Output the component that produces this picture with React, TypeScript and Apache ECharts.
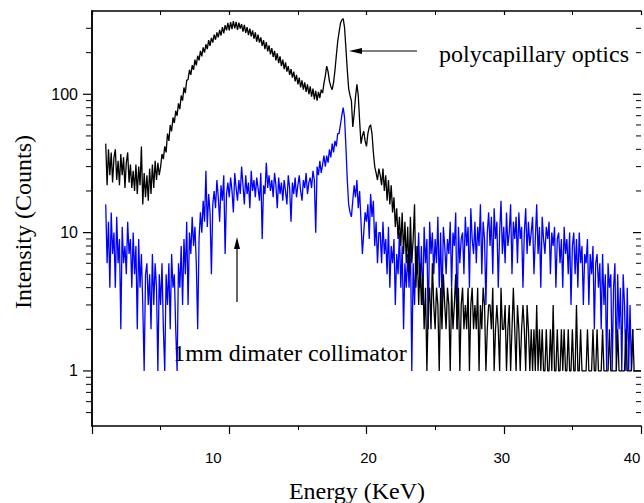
import React, { useEffect, useRef } from "react";
import * as echarts from "echarts";

// Energy calibration of the channels (keV)
const E_START = 1.0;
const E_STEP = 0.1;

// Counts, polycapillary optics (black), one row per keV, 1.0 .. 40.0 keV
const polycapillary = [
  44, 22, 40, 26, 38, 23, 35, 40, 24, 33,
  22, 37, 26, 35, 21, 32, 38, 23, 31, 21,
  28, 20, 31, 19, 30, 22, 42, 16, 27, 18,
  26, 17, 29, 19, 31, 21, 33, 24, 32, 26,
  30, 37, 34, 42, 38, 52, 46, 60, 54, 68,
  62, 76, 70, 86, 78, 98, 90, 112, 102, 126,
  128, 150, 138, 162, 150, 178, 162, 190, 176, 206,
  188, 218, 200, 230, 212, 246, 224, 256, 236, 270,
  248, 280, 258, 292, 266, 306, 276, 316, 290, 328,
  290, 332, 296, 338, 300, 334, 292, 330, 298, 322,
  284, 318, 278, 306, 268, 298, 262, 290, 252, 280,
  240, 270, 236, 258, 224, 246, 212, 238, 204, 226,
  194, 216, 186, 206, 176, 198, 168, 188, 160, 178,
  152, 170, 146, 160, 138, 152, 132, 146, 124, 138,
  118, 132, 112, 126, 108, 122, 104, 118, 100, 114,
  96, 110, 92, 106, 90, 104, 94, 108, 102, 120,
  136, 160, 146, 124, 114, 108, 122, 148, 190, 240,
  280, 325, 345, 352, 305, 215, 150, 110, 98, 90,
  58, 72, 96, 118, 98, 64, 44, 50, 54, 46,
  42, 52, 58, 60, 52, 38, 30, 27, 24, 29,
  26, 22, 29, 20, 26, 17, 24, 16, 22, 14,
  18, 11, 15, 9, 13, 8, 14, 7, 12, 6,
  11, 5, 13, 6, 9, 16, 4, 8, 3, 6,
  3, 5, 2, 4, 1, 3, 4, 2, 6, 3,
  2, 4, 3, 1, 4, 2, 5, 3, 2, 4,
  3, 1, 4, 2, 3, 5, 2, 4, 1, 3,
  4, 2, 3, 2, 4, 1, 3, 4, 2, 3,
  2, 4, 1, 3, 2, 4, 3, 1, 2, 3,
  3, 2, 4, 1, 2, 3, 2, 1, 4, 2,
  2, 3, 1, 2, 3, 1, 2, 4, 2, 1,
  3, 2, 1, 2, 3, 2, 1, 3, 2, 1,
  2, 1, 2, 1, 3, 1, 2, 1, 2, 1,
  1, 2, 1, 1, 2, 1, 3, 1, 1, 2,
  1, 1, 2, 1, 2, 1, 1, 2, 1, 1,
  2, 1, 1, 3, 1, 1, 2, 1, 1, 1,
  1, 2, 1, 1, 1, 2, 1, 1, 2, 1,
  1, 1, 2, 1, 1, 1, 1, 2, 1, 1,
  1, 1, 1, 2, 1, 1, 1, 1, 1, 2,
  1, 1, 1, 1, 2, 1, 1, 1, 1, 1,
  1,
];

// Counts, 1mm diameter collimator (blue), 1.0 .. 39.4 keV
const collimator = [
  16, 6, 12, 4, 14, 7, 10, 4, 13, 6,
  9, 2, 11, 6, 8, 5, 12, 7, 9, 4,
  10, 5, 8, 2, 9, 4, 7, 3, 1, 5,
  6, 3, 5, 2, 7, 3, 6, 4, 1, 5,
  3, 6, 2, 1, 5, 3, 6, 2, 7, 4,
  5, 2, 1, 6, 4, 8, 3, 9, 5, 12,
  3, 10, 7, 13, 8, 11, 6, 2, 9, 14,
  10, 17, 12, 28, 11, 19, 14, 5, 16, 20,
  15, 24, 18, 12, 22, 17, 26, 7, 19, 23,
  18, 25, 20, 14, 27, 21, 17, 24, 19, 30,
  22, 16, 26, 19, 23, 15, 28, 20, 24, 18,
  25, 21, 17, 27, 9, 22, 19, 32, 21, 26,
  20, 24, 18, 27, 22, 15, 25, 19, 23, 17,
  24, 20, 16, 26, 21, 12, 23, 19, 25, 18,
  22, 26, 20, 17, 24, 21, 27, 19, 23, 25,
  21, 28, 24, 10, 30, 26, 33, 27, 31, 36,
  30, 36, 32, 40, 35, 44, 38, 46, 42, 52,
  52, 60, 70, 80, 68, 42, 24, 16, 14, 13,
  17, 22, 18, 24, 15, 20, 12, 7, 10, 14,
  12, 16, 9, 19, 13, 17, 8, 12, 6, 10,
  10, 6, 12, 7, 9, 5, 11, 4, 8, 6,
  9, 3, 7, 5, 10, 4, 8, 2, 6, 4,
  7, 4, 9, 1, 6, 3, 8, 5, 10, 4,
  8, 3, 11, 6, 9, 2, 12, 7, 10, 5,
  9, 6, 13, 4, 10, 3, 11, 8, 5, 9,
  7, 12, 4, 10, 8, 14, 2, 11, 6, 9,
  10, 5, 13, 8, 11, 4, 15, 9, 7, 12,
  6, 11, 8, 16, 5, 12, 9, 3, 10, 14,
  8, 13, 5, 15, 9, 12, 4, 10, 17, 7,
  11, 6, 14, 8, 10, 16, 5, 12, 9, 13,
  6, 14, 9, 11, 4, 10, 15, 7, 12, 8,
  10, 13, 5, 9, 16, 7, 11, 4, 13, 9,
  7, 11, 9, 12, 5, 10, 8, 11, 4, 9,
  10, 6, 9, 4, 11, 7, 9, 5, 10, 3,
  8, 10, 5, 9, 4, 10, 6, 8, 3, 7,
  6, 9, 3, 7, 5, 8, 2, 6, 7, 4,
  6, 2, 7, 3, 5, 1, 6, 4, 5, 1,
  4, 6, 1, 5, 2, 4, 1, 5, 3, 1,
  4, 1, 3, 1, 2,
];

// Axes
const X_MIN = 0;
const X_MAX = 40;
const X_INTERVAL = 10;
const xLabelValues = [10, 20, 30, 40];
// horizontal offset (px) of each x tick label as printed in the original
const xLabelShift = [-16, 2, -2, -9];
const Y_MIN = 0.4;
const Y_MAX = 400;
const yLabelValues = [1, 10, 100];
const yMinorValues = [
  0.5, 0.6, 0.7, 0.8, 0.9,
  2, 3, 4, 5, 6, 7, 8, 9,
  20, 30, 40, 50, 60, 70, 80, 90,
  200, 300,
];

const xTitle = "Energy (KeV)";
const yTitle = "Intensity (Counts)";
const note1 = "polycapillary optics";
const note2 = "1mm dimater collimator";

const toPairs = (vals: number[]) =>
  vals.map((v, i) => [Math.round((E_START + i * E_STEP) * 100) / 100, v]);

export default function App() {
  const ref = useRef<HTMLDivElement>(null);

  useEffect(() => {
    if (!ref.current) return;
    const chart = echarts.init(ref.current, undefined, { renderer: "svg" });

    const tickItems: number[][] = [];
    yLabelValues.forEach((v) => {
      tickItems.push([X_MIN, v, 1]);
      tickItems.push([X_MAX, v, 1]);
    });
    yMinorValues.forEach((v) => {
      tickItems.push([X_MIN, v, 0]);
      tickItems.push([X_MAX, v, 0]);
    });

    const axisLine = { show: true, lineStyle: { color: "#000", width: 1.5 } };
    const sans = '"Liberation Sans", Arial, sans-serif';
    const serif = '"Liberation Serif", "Times New Roman", serif';

    const rich: Record<string, any> = {};
    xLabelValues.forEach((v, i) => {
      const s = xLabelShift[i];
      rich["l" + v] = {
        fontFamily: sans,
        fontSize: 15,
        color: "#000",
        padding: s < 0 ? [0, -2 * s, 0, 0] : [0, 0, 0, 2 * s],
      };
    });

    chart.setOption({
      animation: false,
      backgroundColor: "#fff",
      grid: {
        left: 92,
        top: 11,
        width: 549,
        height: 415,
        containLabel: false,
        outerBoundsMode: "none",
      },
      xAxis: [
        {
          type: "value",
          position: "bottom",
          min: X_MIN,
          max: X_MAX,
          interval: X_INTERVAL,
          axisLine,
          axisTick: { show: true, inside: false, length: 8, lineStyle: { color: "#000", width: 1.2 } },
          minorTick: { show: true, splitNumber: 2, length: 4, lineStyle: { color: "#000", width: 1 } },
          splitLine: { show: false },
          axisLabel: {
            show: true,
            margin: 24,
            fontFamily: sans,
            fontSize: 15,
            color: "#000",
            rich,
            formatter: (v: number) => (xLabelValues.includes(v) ? `{l${v}|${v}}` : ""),
          },
        },
        {
          type: "value",
          position: "top",
          min: X_MIN,
          max: X_MAX,
          interval: X_INTERVAL,
          axisLine,
          axisTick: { show: true, inside: true, length: 4, lineStyle: { color: "#000", width: 1.2 } },
          minorTick: { show: true, splitNumber: 2, length: 4, lineStyle: { color: "#000", width: 1 } },
          splitLine: { show: false },
          axisLabel: { show: false },
        },
      ],
      yAxis: [
        {
          type: "log",
          logBase: 10,
          position: "left",
          min: Y_MIN,
          max: Y_MAX,
          axisLine,
          axisTick: { show: false },
          minorTick: { show: false },
          splitLine: { show: false },
          axisLabel: {
            show: true,
            margin: 14,
            fontFamily: sans,
            fontSize: 16,
            color: "#000",
            formatter: (v: number) => {
              const hit = yLabelValues.find((t) => Math.abs(t - v) < 1e-6 * t);
              return hit !== undefined ? String(hit) : "";
            },
          },
        },
        {
          type: "log",
          logBase: 10,
          position: "right",
          min: Y_MIN,
          max: Y_MAX,
          axisLine,
          axisTick: { show: false },
          minorTick: { show: false },
          splitLine: { show: false },
          axisLabel: { show: false },
        },
      ],
      series: [
        {
          name: "collimator",
          type: "line",
          xAxisIndex: 0,
          yAxisIndex: 0,
          data: toPairs(collimator),
          showSymbol: false,
          symbol: "none",
          lineStyle: { color: "#0000ff", width: 1.3 },
          silent: true,
        },
        {
          name: "polycapillary",
          type: "line",
          xAxisIndex: 0,
          yAxisIndex: 0,
          data: toPairs(polycapillary),
          showSymbol: false,
          symbol: "none",
          lineStyle: { color: "#000000", width: 1.3 },
          silent: true,
        },
        {
          name: "yticks",
          type: "custom",
          xAxisIndex: 0,
          yAxisIndex: 0,
          silent: true,
          clip: false,
          data: tickItems,
          renderItem: (_params: any, api: any) => {
            const xv = api.value(0);
            const v = api.value(1);
            const major = api.value(2) === 1;
            const p = api.coord([xv, v]);
            const left = xv === X_MIN;
            const len = left ? (major ? 9 : 6) : major ? 8 : 5;
            return {
              type: "line",
              shape: { x1: p[0], y1: p[1], x2: p[0] - len, y2: p[1] },
              style: { stroke: "#000", lineWidth: major ? 1.2 : 1 },
            };
          },
        },
      ],
      graphic: [
        {
          type: "text",
          x: 23,
          y: 222,
          rotation: Math.PI / 2,
          style: { text: yTitle, font: `24px ${serif}`, fill: "#000", align: "center", verticalAlign: "middle" },
        },
        {
          type: "text",
          x: 357,
          y: 491,
          style: { text: xTitle, font: `24px ${serif}`, fill: "#000", align: "center", verticalAlign: "middle" },
        },
        {
          type: "text",
          x: 534,
          y: 54,
          style: { text: note1, font: `24px ${serif}`, fill: "#000", align: "center", verticalAlign: "middle" },
        },
        {
          type: "text",
          x: 290,
          y: 353,
          style: { text: note2, font: `24px ${serif}`, fill: "#000", align: "center", verticalAlign: "middle" },
          z: 100,
        },
        {
          type: "line",
          shape: { x1: 417, y1: 51, x2: 358, y2: 51 },
          style: { stroke: "#000", lineWidth: 1.2 },
        },
        {
          type: "polygon",
          shape: { points: [[349, 51], [362, 48], [362, 54]] },
          style: { fill: "#000" },
        },
        {
          type: "line",
          shape: { x1: 237, y1: 302, x2: 237, y2: 246 },
          style: { stroke: "#000", lineWidth: 1.2 },
        },
        {
          type: "polygon",
          shape: { points: [[237, 237], [234, 249], [240, 249]] },
          style: { fill: "#000" },
        },
      ],
    });

    return () => chart.dispose();
  }, []);

  return (
    <div
      ref={ref}
      style={{ position: "fixed", left: 0, top: 0, width: 644, height: 503, background: "#fff" }}
    />
  );
}
